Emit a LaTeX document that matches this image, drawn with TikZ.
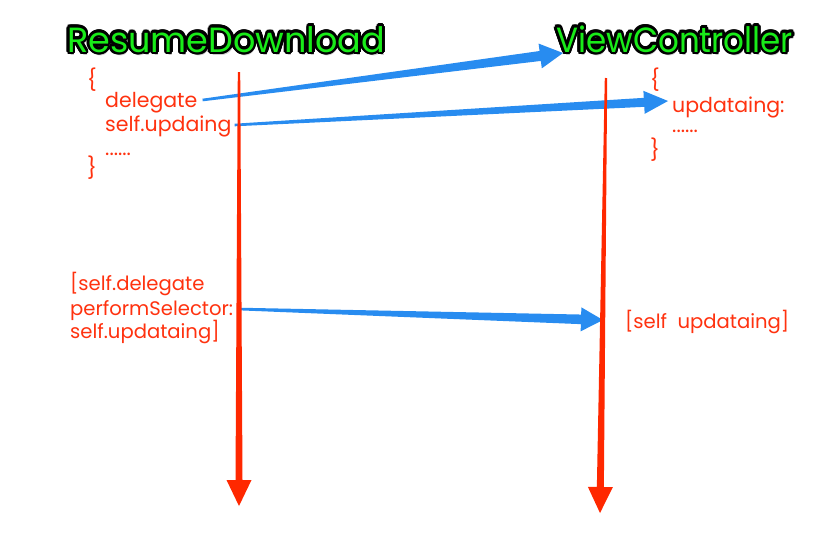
\documentclass[tikz,border=0pt]{standalone}
\usepackage{fontspec}
\setmainfont{Poppins}
\usetikzlibrary{calc}
\definecolor{lineRed}{RGB}{255,40,0}
\definecolor{txtRed}{RGB}{255,50,15}
\definecolor{arrBlue}{RGB}{40,140,240}
\definecolor{ttlGreen}{RGB}{25,235,25}
% #1 start, #2 tip, #3 half start width, #4 half shaft width at head, #5 head length, #6 half head width, #7 colour (all sizes in pt)
\newcommand\taperarrow[7]{%
  \coordinate (hb) at ($(#2)!#5pt!(#1)$);
  \fill[#7] ($(#1)!#3pt!90:(#2)$) -- ($(hb)!#4pt!-90:(#1)$) -- ($(hb)!#6pt!-90:(#1)$)
    -- (#2) -- ($(hb)!#6pt!90:(#1)$) -- ($(hb)!#4pt!90:(#1)$) -- ($(#1)!#3pt!-90:(#2)$) -- cycle;
}
\newcommand\outlinedtitle[4]{% #1 name, #2 position, #3 extra style, #4 text
  \node[title, #3, text=black!40, opacity=0.5] (#1sh) at ($(#2)+(1.5,3)$) {#4};
  \foreach \ang in {0,20,...,340}{
    \node[title, #3, text=black] (#1o\ang) at ($(#2)+(\ang:2.6)$) {#4};
  }
  \node[title, #3, text=ttlGreen] (#1) at (#2) {#4};
}
\begin{document}
\begin{tikzpicture}[x=1pt,y=-1pt,
  title/.style={font=\fontsize{35}{35}\selectfont, inner sep=0pt, anchor=base west},
  code/.style={font=\fontsize{20.5}{20.5}\selectfont, text=txtRed, inner sep=0pt, anchor=base west},
  codeb/.style={code, font=\fontsize{19.6}{19.6}\selectfont},
  brace/.style={font=\fontsize{21}{21}\selectfont, text=txtRed, inner sep=0pt}]
\useasboundingbox (0,0) rectangle (817,550);
\fill[white] (0,0) rectangle (817,550);

% titles
\coordinate (rdpos) at (67,52);
\coordinate (vcpos) at (556,52);
\outlinedtitle{rd}{rdpos}{}{ResumeDownload}
\outlinedtitle{vc}{vcpos}{xscale=0.93, transform shape}{ViewController}

% left code block
\node[brace] (lb1) at (92,80) {\{};
\node[code] (delegate) at (105,107) {delegate};
\node[code] (selfupd) at (105,131) {self.updaing};
\node[code] (dots1) at (105,155) {......};
\node[brace] (lb2) at (92,168) {\}};

% right code block
\node[brace] (rb1) at (655,80) {\{};
\node[code] (updataing) at (672,112) {updataing:};
\node[code] (dots2) at (672,132) {......};
\node[brace] (rb2) at (655,150) {\}};

% bottom texts
\node[codeb] (call1) at (70,290) {[self.delegate};
\node[codeb] (call2) at (70,315) {performSelector:};
\node[codeb] (call3) at (70,338) {self.updataing]};
\node[codeb] (callee) at (625,328) {[self\ \ updataing]};

% blue arrows
\coordinate (a1s) at ($(delegate.base east)+(5,-7)$);
\coordinate (a1t) at ($(vc.base west)+(7,1)$);
\coordinate (a2s) at ($(selfupd.base east)+(3,-6)$);
\coordinate (a2t) at ($(updataing.base west)+(-4,-11)$);
\coordinate (a3s) at ($(call2.base east)+(5,-6)$);
\coordinate (a3t) at ($(callee.base west)+(-22,-8)$);
\taperarrow{a1s}{a1t}{1.3}{5}{23}{12.5}{arrBlue}
\taperarrow{a2s}{a2t}{1.3}{4.5}{24}{11.5}{arrBlue}
\taperarrow{a3s}{a3t}{1.3}{4.8}{22}{12}{arrBlue}

% red timelines
\coordinate (ltop) at (239,72);
\coordinate (lbot) at (239,506);
\coordinate (rtop) at (606,78);
\coordinate (rbot) at (600,513);
\taperarrow{ltop}{lbot}{1.2}{3.5}{26}{12.5}{lineRed}
\taperarrow{rtop}{rbot}{1.2}{3.5}{26}{12.5}{lineRed}
\end{tikzpicture}
\end{document}
